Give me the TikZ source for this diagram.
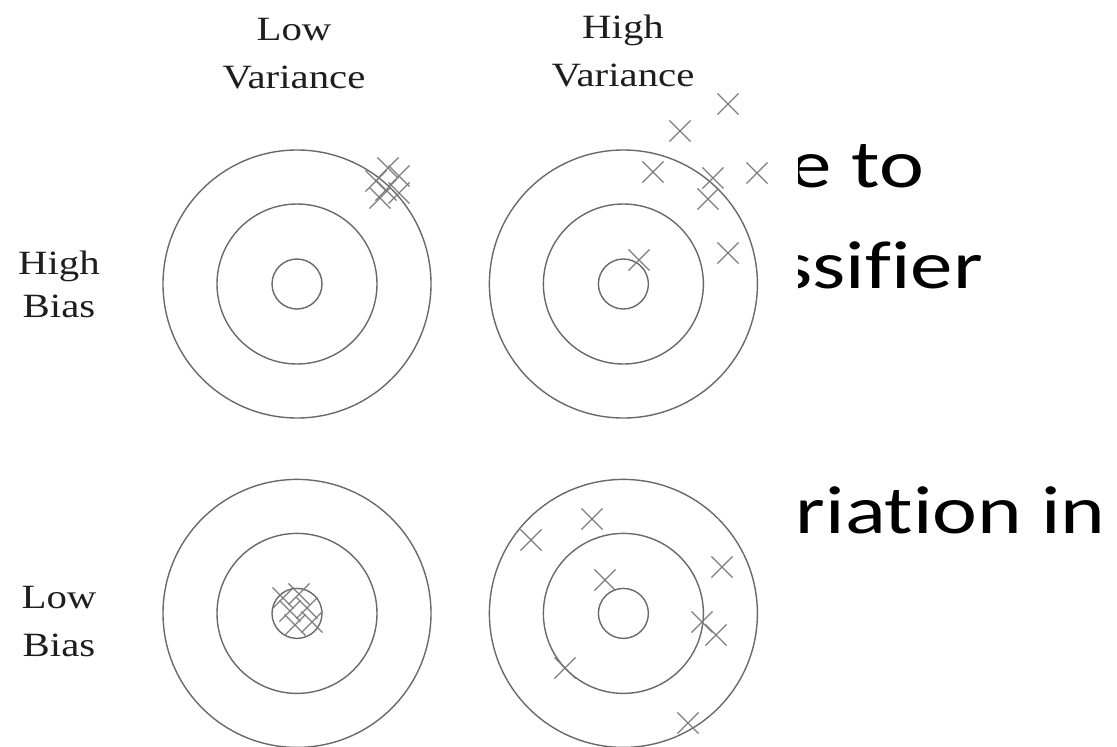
\documentclass[tikz,border=0pt]{standalone}
\usepackage{fontspec}
\setmainfont{Liberation Serif}
\newfontfamily\slidefont[Ligatures=NoCommon]{Carlito}
\usepackage{graphicx}
\usepackage{tikz}
\usetikzlibrary{positioning,shapes.misc}
\definecolor{ringgray}{RGB}{105,105,105}
\definecolor{crossgray}{RGB}{125,125,125}
\definecolor{inkgray}{RGB}{30,30,30}
\newcommand{\wide}[1]{\scalebox{1.2}[1]{#1}}
\newcommand{\slidewide}[1]{\scalebox{1.25}[1]{#1}}
\tikzset{
  ring/.style={circle, draw=ringgray, line width=1.4pt, minimum size=#1, inner sep=0pt},
  hit/.style={cross out, draw=crossgray, line width=1.1pt, minimum size=20pt, inner sep=0pt},
  axislabel/.style={align=center, text=inkgray, inner sep=0pt, anchor=north,
    font=\fontsize{34}{48}\selectfont},
  slidetext/.style={anchor=base east, inner sep=0pt, font=\slidefont\fontsize{68}{80}\selectfont}
}

\begin{document}
\begin{tikzpicture}[x=1pt, y=-1pt]
\useasboundingbox (0,0) rectangle (1117,747);

% slide text, partly hidden behind the figure
\begin{scope}
\clip (798,0) rectangle (1117,747);
\node[slidetext] (line1) at (924,187) {\slidewide{e to}};
\node[slidetext] (line2) at (983,288) {\slidewide{ssifier}};
\node[slidetext] (line3) at (1106,533) {\slidewide{riation in}};
\end{scope}

% targets
\node[ring=268pt] (hblv) at (297,284) {};
\node[ring=268pt, right=57pt of hblv] (hbhv) {};
\node[ring=268pt, below=60pt of hblv] (lblv) {};
\node[ring=268pt, right=57pt of lblv] (lbhv) {};
\foreach \t in {hblv,hbhv,lblv,lbhv} {
  \node[ring=160pt] (\t-mid) at (\t.center) {};
  \node[ring=50pt] (\t-in) at (\t.center) {};
}

% labels
\node[axislabel] (lowvar) at (294,18) {\wide{Low}\\\wide{Variance}};
\node[axislabel] (highvar) at (623,15) {\wide{High}\\\wide{Variance}};
\node[axislabel] (highbias) at (59,251) {\wide{High}\\[-5pt]\wide{Bias}};
\node[axislabel] (lowbias) at (59,586) {\wide{Low}\\\wide{Bias}};

% hits
\foreach \p [count=\i] in {(376,181),(388,168),(399,176),(386,190),(399,193),(380,198)}
  \node[hit] (hblv-x\i) at \p {};
\foreach \p [count=\i] in {(728,104),(680,131),(653,172),(713,178),(757,173),(708,199),(728,253),(639,260)}
  \node[hit] (hbhv-x\i) at \p {};
\foreach \p [count=\i] in {(283,598),(299,594),(290,611),(307,608),(295,625),(312,622)}
  \node[hit] (lblv-x\i) at \p {};
\foreach \p [count=\i] in {(592,519),(531,540),(605,580),(722,567),(702,622),(716,635),(565,668),(688,723)}
  \node[hit] (lbhv-x\i) at \p {};
\end{tikzpicture}
\end{document}
